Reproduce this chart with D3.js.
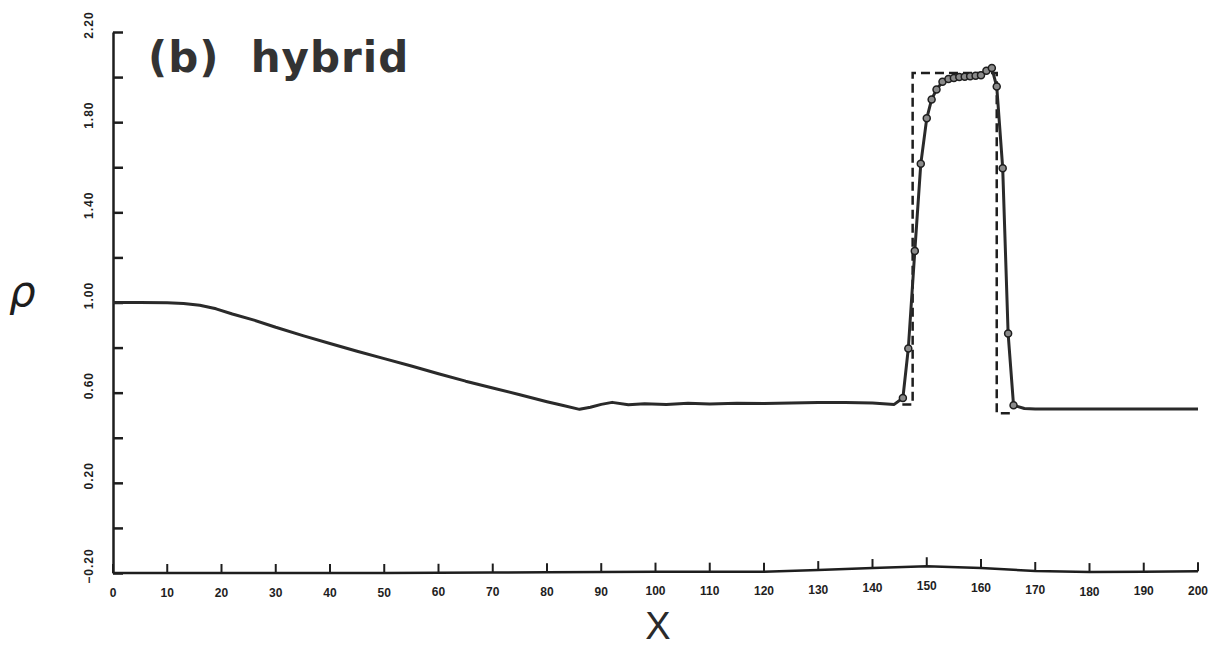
<!DOCTYPE html>
<meta charset="utf-8">
<script src="https://d3js.org/d3.v7.min.js"></script>
<style>
  body { margin: 0; background: #fff; }
  svg { display: block; }
</style>
<div id="chart"></div>
<script>

// density of the hybrid scheme along x
var xNum = [0, 5, 10, 13, 16, 19, 22, 26, 30, 35, 40, 45, 50, 55, 60, 65, 70, 75, 80, 83, 86, 88, 90, 92, 95, 98,
  102, 106, 110, 115, 120, 125, 130, 135, 140, 144, 145.6, 146.6, 147.8, 148.9, 150.0, 150.9, 151.8, 152.9, 154.0,
  155, 156, 157, 158, 159, 160, 161, 162, 162.9, 164.0, 165.0, 166.0, 168, 170, 175, 180, 185, 190, 195, 200];
var rhoNum = [1.000, 1.000, 0.999, 0.996, 0.988, 0.972, 0.949, 0.922, 0.890, 0.853, 0.818, 0.784, 0.751, 0.718,
  0.684, 0.651, 0.621, 0.591, 0.560, 0.543, 0.526, 0.535, 0.548, 0.557, 0.546, 0.551, 0.548, 0.553, 0.550, 0.553,
  0.552, 0.554, 0.556, 0.556, 0.554, 0.548, 0.576, 0.796, 1.229, 1.615, 1.817, 1.901, 1.945, 1.979, 1.992,
  1.996, 2.000, 2.002, 2.004, 2.006, 2.008, 2.028, 2.040, 1.958, 1.596, 0.862, 0.544, 0.530, 0.528, 0.527,
  0.527, 0.527, 0.527, 0.527, 0.527];

// exact solution around the contact / shock
var xExact = [145.5, 147.4, 147.4, 162.9, 162.9, 165.5];
var rhoExact = [0.548, 0.548, 2.018, 2.018, 0.509, 0.509];

// bottom line of the plot as it runs (slightly bent)
var xBase = [0, 10, 20, 30, 40, 50, 60, 70, 80, 90, 100, 110, 120, 130, 140, 150, 160, 170, 180, 190, 200];
var rhoBase = [-0.200, -0.200, -0.200, -0.200, -0.200, -0.200, -0.199, -0.198, -0.197, -0.196, -0.194, -0.194,
  -0.194, -0.187, -0.178, -0.170, -0.178, -0.191, -0.196, -0.194, -0.192];

var yTicks = [-0.2, 0, 0.2, 0.4, 0.6, 0.8, 1.0, 1.2, 1.4, 1.6, 1.8, 2.0, 2.2];
var yLabels = [2.2, 1.8, 1.4, 1.0, 0.6, 0.2, -0.2];

var ink = "#1e1e1e";

var width = 1219, height = 648;

var svg = d3.select("#chart")
  .append("svg")
    .attr("width", width)
    .attr("height", height);

var x = d3.scaleLinear().domain([0, 200]).range([113, 1198]);
var y = d3.scaleLinear().domain([-0.2, 2.2]).range([573, 32]);

// y axis, ticks pointing inwards
var yAxis = svg.append("g")
  .attr("transform", "translate(113,0)")
  .call(d3.axisLeft(y).tickValues(yTicks).tickSize(-10).tickSizeOuter(0).tickFormat(""));
yAxis.select(".domain").attr("stroke", ink).attr("stroke-width", 2.5);
yAxis.selectAll(".tick line").attr("stroke", ink).attr("stroke-width", 2.5);

svg.selectAll("ylab")
  .data(yLabels)
  .enter()
  .append("text")
    .attr("transform", function(d){ return "translate(93," + (y(d) - 7) + ")rotate(-90)"; })
    .attr("text-anchor", "middle")
    .style("font-family", "'Liberation Sans', Arial, sans-serif")
    .style("font-weight", "bold")
    .style("font-size", "12px")
    .style("letter-spacing", "1px")
    .style("fill", ink)
    .text(function(d){ return d3.format(".2f")(d); });

// x axis, ticks follow the bent bottom line
var xAxis = svg.append("g")
  .attr("transform", "translate(0," + y(-0.2) + ")")
  .call(d3.axisBottom(x).tickValues(xBase).tickSize(-9).tickPadding(15).tickFormat(d3.format("d")));
xAxis.select(".domain").remove();
xAxis.selectAll(".tick")
  .attr("transform", function(d, i){ return "translate(" + x(d) + "," + (y(rhoBase[i]) - y(-0.2)) + ")"; });
xAxis.selectAll(".tick line").attr("stroke", ink).attr("stroke-width", 2);
xAxis.selectAll(".tick text")
  .style("font-family", "'Liberation Sans', Arial, sans-serif")
  .style("font-weight", "bold")
  .style("font-size", "12px")
  .style("fill", ink);

svg.append("path")
  .datum(xBase.map(function(d, i){ return [d, rhoBase[i]]; }))
  .attr("d", d3.line().x(function(d){ return x(d[0]); }).y(function(d){ return y(d[1]); }))
  .attr("fill", "none")
  .attr("stroke", ink)
  .attr("stroke-width", 2.5);

// exact solution, dashed
svg.append("path")
  .datum(xExact.map(function(d, i){ return [d, rhoExact[i]]; }))
  .attr("d", d3.line().x(function(d){ return x(d[0]); }).y(function(d){ return y(d[1]); }))
  .attr("fill", "none")
  .attr("stroke", ink)
  .attr("stroke-width", 2.5)
  .attr("stroke-dasharray", "9,5");

// numerical solution
var num = xNum.map(function(d, i){ return [d, rhoNum[i]]; });
svg.append("path")
  .datum(num)
  .attr("d", d3.line().x(function(d){ return x(d[0]); }).y(function(d){ return y(d[1]); }))
  .attr("fill", "none")
  .attr("stroke", "#2a2a2a")
  .attr("stroke-width", 3)
  .attr("stroke-linejoin", "round");

svg.selectAll("marks")
  .data(num.filter(function(d){ return d[0] > 145 && d[0] < 167; }))
  .enter()
  .append("circle")
    .attr("cx", function(d){ return x(d[0]); })
    .attr("cy", function(d){ return y(d[1]); })
    .attr("r", 3.5)
    .attr("fill", "#8a8a8a")
    .attr("stroke", ink)
    .attr("stroke-width", 1.5);

// labels
svg.append("text")
  .attr("x", 148)
  .attr("y", 72)
  .style("font-family", "'DejaVu Sans', sans-serif")
  .style("font-weight", "bold")
  .style("font-size", "42px")
  .style("letter-spacing", "1px")
  .style("white-space", "pre")
  .style("fill", "#333")
  .text("(b)  hybrid");

svg.append("text")
  .attr("x", 9)
  .attr("y", 306)
  .style("font-family", "'DejaVu Sans', sans-serif")
  .style("font-style", "italic")
  .style("font-size", "42px")
  .style("fill", ink)
  .text("ρ");

svg.append("text")
  .attr("x", 658)
  .attr("y", 639)
  .attr("text-anchor", "middle")
  .style("font-family", "'Liberation Sans', Arial, sans-serif")
  .style("font-size", "38px")
  .style("fill", "#2a2a2a")
  .text("X");

</script>
